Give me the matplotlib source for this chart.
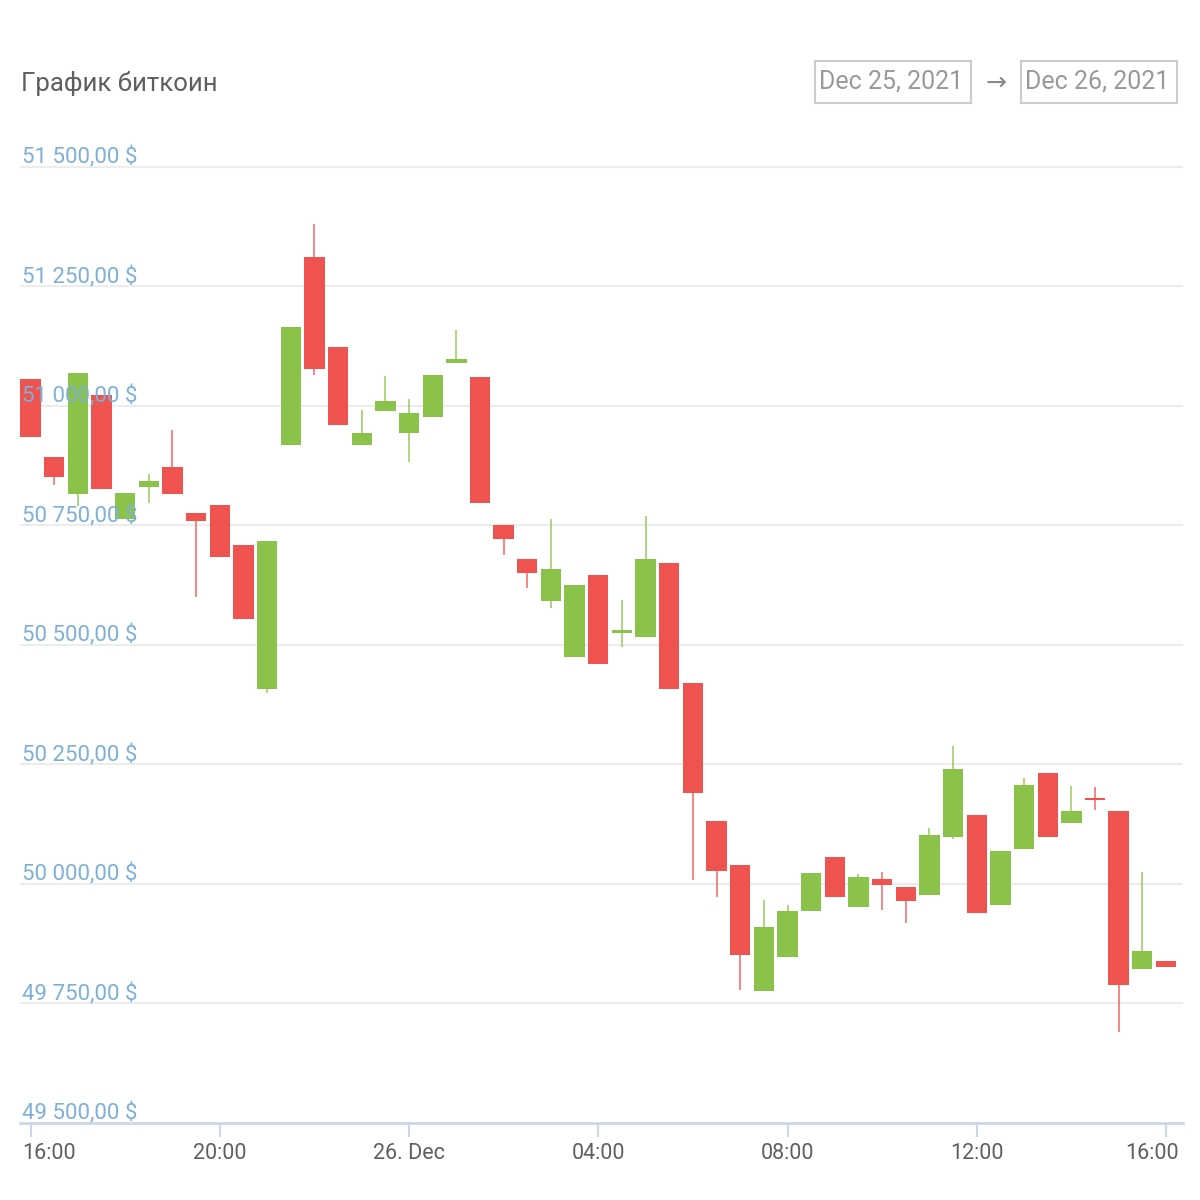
import numpy as np
import pandas as pd
import matplotlib
matplotlib.use("Agg")
from matplotlib import pyplot as plt
import matplotlib.dates as mdates
from matplotlib.patches import Rectangle

plt.rcParams['font.family'] = ['Roboto', 'DejaVu Sans']

# 30-minute candles, Dec 25 16:00 -> Dec 26 16:00
times = pd.date_range('2021-12-25 16:00', periods=49, freq='30min')

open_ = [51056, 50893, 50815, 51022, 50763, 50830, 50872, 50776, 50792, 50709,
         50407, 50918, 51312, 51123, 50918, 50989, 50944, 50977, 51089, 51061,
         50751, 50680, 50592, 50475, 50646, 50524, 50517, 50672, 50420, 50132,
         50039, 49776, 49847, 49944, 50057, 49951, 50010, 49993, 49976, 50098,
         50144, 49956, 50073, 50232, 50127, 50180, 50152, 49822, 49838]
high = [51056, 50893, 51068, 51022, 50817, 50857, 50949, 50776, 50792, 50709,
        50717, 51165, 51380, 51123, 50991, 51062, 51015, 51065, 51158, 51061,
        50751, 50680, 50764, 50625, 50646, 50594, 50769, 50672, 50420, 50132,
        50039, 49966, 49957, 50023, 50057, 50020, 50025, 49993, 50117, 50288,
        50144, 50068, 50221, 50232, 50204, 50202, 50152, 50025, 49838]
low = [50934, 50834, 50790, 50826, 50763, 50796, 50815, 50600, 50683, 50554,
       50399, 50918, 51064, 50960, 50918, 50989, 50883, 50977, 51089, 50797,
       50688, 50620, 50578, 50475, 50461, 50495, 50517, 50407, 50009, 49972,
       49778, 49776, 49847, 49944, 49972, 49951, 49945, 49918, 49976, 50094,
       49939, 49956, 50073, 50098, 50127, 50154, 49690, 49822, 49826]
close = [50934, 50851, 51068, 50826, 50817, 50842, 50815, 50759, 50683, 50554,
         50717, 51165, 51077, 50960, 50944, 51010, 50985, 51065, 51098, 50797,
         50721, 50651, 50659, 50625, 50461, 50531, 50679, 50407, 50190, 50027,
         49851, 49910, 49944, 50023, 49972, 50014, 49997, 49964, 50102, 50240,
         49939, 50068, 50207, 50098, 50152, 50175, 49788, 49859, 49826]

y_ticks = [49500, 49750, 50000, 50250, 50500, 50750, 51000, 51250, 51500]
x_tick_times = ['2021-12-25 16:00', '2021-12-25 20:00', '2021-12-26 00:00', '2021-12-26 04:00',
                '2021-12-26 08:00', '2021-12-26 12:00', '2021-12-26 16:00']
x_tick_labels = ['16:00', '20:00', '26. Dec', '04:00', '08:00', '12:00', '16:00']

UP = '#8bc34a'
DOWN = '#ef5350'

fig = plt.figure(figsize=(12, 12), dpi=100)
ax = fig.add_axes([20 / 1200, 1 - 1123 / 1200, 1163 / 1200, (1123 - 140) / 1200])

xs = mdates.date2num(times)
o = np.array(open_)
c = np.array(close)
colors = [UP if cc >= oo else DOWN for oo, cc in zip(o, c)]
w = 0.43 / 24

ax.vlines(xs, low, high, colors=colors, linewidth=1.3, alpha=0.75, zorder=2)
ax.bar(xs, np.abs(c - o), bottom=np.minimum(o, c), width=w, color=colors, zorder=3)

ax.set_ylim(49500, 51556)
ax.set_xlim(xs[0] - 13.4 / 1440, xs[-1] + 21.6 / 1440)

for v in y_ticks[1:]:
    ax.axhline(v, color='#ececec', linewidth=1.5, zorder=1)

for s in ['top', 'right', 'left']:
    ax.spines[s].set_visible(False)
ax.spines['bottom'].set_color('#ccd6eb')
ax.spines['bottom'].set_linewidth(2)

ax.set_yticks([])
tick_x = mdates.date2num(pd.to_datetime(x_tick_times))
ax.set_xticks(tick_x)
ax.set_xticklabels([])
ax.tick_params(axis='x', length=10, width=1.5, color='#ccd6eb')

# y labels sit just above their grid lines
for v in y_ticks:
    lbl = f"{v:,}".replace(',', ' ') + ",00 $"
    ax.annotate(lbl, xy=(0, v), xycoords=('axes fraction', 'data'),
                xytext=(1.5, -1.2), textcoords='offset points',
                fontsize=16, color='#7eb0d8', ha='left', va='bottom', zorder=5)

# x labels, first and last pushed inside the chart
for i, (tx, lbl) in enumerate(zip(tick_x, x_tick_labels)):
    ha, dx = 'center', 0
    if i == 0:
        ha, dx = 'left', -6
    elif i == len(tick_x) - 1:
        ha, dx = 'right', 9
    ax.annotate(lbl, xy=(tx, 0), xycoords=('data', 'axes fraction'),
                xytext=(dx, -22), textcoords='offset points',
                fontsize=15.5, color='#5f5f5f', ha=ha, va='center')

fig.text(21 / 1200, 1 - 91 / 1200, 'График биткоин', fontsize=18.5, color='#5f5f5f',
         ha='left', va='baseline')

for left, txt in [(815, 'Dec 25, 2021'), (1021, 'Dec 26, 2021')]:
    fig.patches.append(Rectangle((left / 1200, 1 - 103 / 1200), 156 / 1200, 42 / 1200,
                                 transform=fig.transFigure, fill=False,
                                 edgecolor='#cccccc', linewidth=1.5))
    fig.text((left + 4) / 1200, 1 - 82 / 1200, txt, fontsize=18, color='#999999',
             ha='left', va='center')
fig.text(996.5 / 1200, 1 - 83 / 1200, '→', fontsize=18, color='#888888',
         ha='center', va='center')

fig.savefig('out.png', dpi=100, facecolor='white')
